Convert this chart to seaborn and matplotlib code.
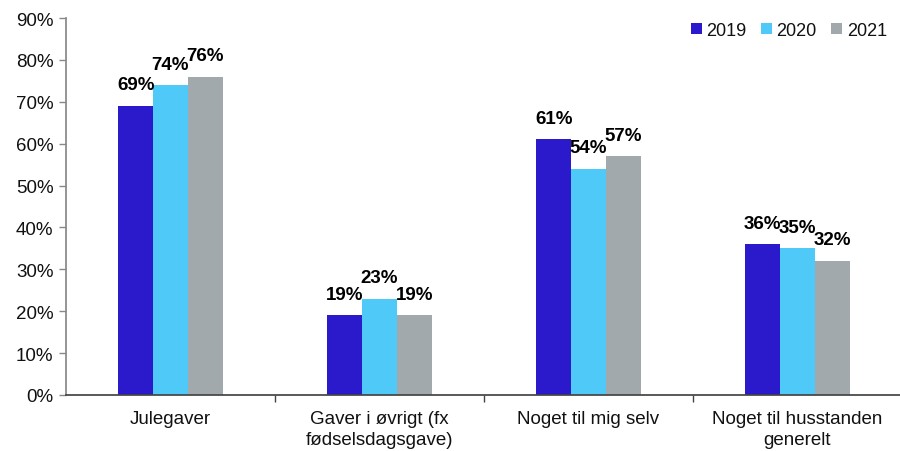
import pandas as pd
import numpy as np
import matplotlib.pyplot as plt
import seaborn as sns
from matplotlib.ticker import FixedLocator, PercentFormatter

# --- data ---
kategorier = ["Julegaver", "Gaver i øvrigt (fx\nfødselsdagsgave)",
              "Noget til mig selv", "Noget til husstanden\ngenerelt"]
aar = ["2019", "2020", "2021"]
v2019 = [69, 19, 61, 36]
v2020 = [74, 23, 54, 35]
v2021 = [76, 19, 57, 32]
farver = ["#2B1ACB", "#4FC9F8", "#A2A9AC"]

df = pd.DataFrame({
    "kategori": kategorier * 3,
    "aar": [a for a in aar for _ in kategorier],
    "andel": v2019 + v2020 + v2021,
})

sns.set_theme(style="white")
plt.rcParams['font.family'] = ['Liberation Sans', 'DejaVu Sans']
plt.rcParams['text.color'] = '#111111'
plt.rcParams['xtick.color'] = '#111111'
plt.rcParams['ytick.color'] = '#111111'

fig = plt.figure(figsize=(9, 4.52), dpi=100)
ax = fig.add_axes([66 / 900, 56 / 452, 836 / 900, 377 / 452])

sns.barplot(data=df, x="kategori", y="andel", hue="aar", palette=farver,
            width=0.5, saturation=1, ax=ax, errorbar=None, linewidth=0)

for cont in ax.containers:
    ax.bar_label(cont, fmt="%.0f%%", padding=9, fontsize=13.5,
                 fontweight='bold', color='black')

ax.set_ylim(0, 90)
ax.set_xlim(-0.5, 3.5)
ax.set_yticks(np.arange(0, 91, 10))
ax.yaxis.set_major_formatter(PercentFormatter(decimals=0))
ax.tick_params(axis='y', length=5, width=1, color='#888888', labelsize=13.5,
               left=True, pad=4)
ax.tick_params(axis='x', which='major', length=0, labelsize=13.5, pad=11)
for lbl in ax.get_xticklabels():
    lbl.set_linespacing(1.3)
ax.xaxis.set_minor_locator(FixedLocator([0.5, 1.5, 2.5, 3.5]))
ax.tick_params(axis='x', which='minor', length=5, width=1, color='#444444',
               bottom=True)
ax.set_xlabel("")
ax.set_ylabel("")

for s in ["top", "right"]:
    ax.spines[s].set_visible(False)
ax.spines["left"].set_color("#888888")
ax.spines["bottom"].set_color("#444444")

ax.legend(title=None, frameon=False, ncol=3, loc='upper right',
          bbox_to_anchor=(903 / 900, 0.985), bbox_transform=fig.transFigure,
          handlelength=0.6, handleheight=0.6, handletextpad=0.25,
          columnspacing=0.8, fontsize=13)

plt.savefig("out.png", dpi=100)
